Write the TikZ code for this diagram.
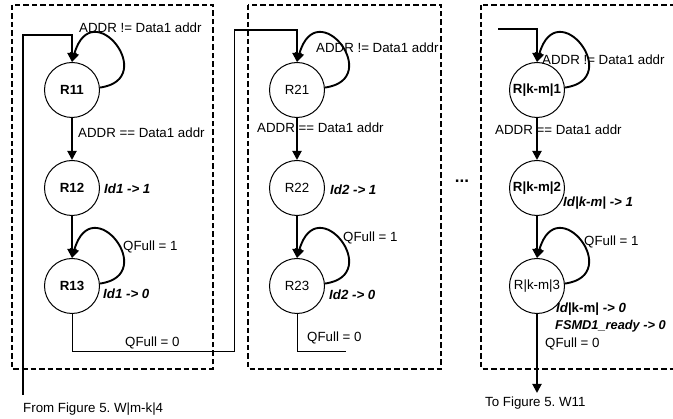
\documentclass[tikz,border=0pt]{standalone}
\usepackage{fontspec}
\setmainfont{Liberation Sans}
\usetikzlibrary{arrows.meta}
\begin{document}
\frenchspacing
\begin{tikzpicture}[x=1pt,y=1pt,font=\fontsize{13.3}{15}\selectfont]
        \tikzstyle{reg}=[circle, draw, line width=1pt, minimum size=55pt, inner sep=0pt]
        \tikzstyle{flow}=[line width=1.9pt, -{Triangle[length=9pt,width=9pt]}]
        \tikzstyle{wire}=[line width=1pt]
        \tikzstyle{frame}=[line width=1.9pt, dash pattern=on 5.5pt off 3pt]
        \tikzstyle{lbl}=[anchor=west, inner sep=0pt]
        \tikzstyle{act}=[anchor=west, inner sep=0pt, font=\fontsize{13.3}{15}\selectfont\bfseries\itshape]

        \useasboundingbox (0,0) rectangle (673,-419);

        \draw[frame] (12,-5) rectangle (213,-369);
        \draw[frame] (248,-5) rectangle (441,-369);
        \draw[frame] (481,-5) rectangle (690,-369);

        \node[reg] (R11) at (72,-90) {\textbf{R11}};
        \node[reg] (R12) at (72,-188) {\textbf{R12}};
        \node[reg] (R13) at (72,-286) {\textbf{R13}};
        \node[reg] (R21) at (297,-90) {R21};
        \node[reg] (R22) at (297,-188) {R22};
        \node[reg] (R23) at (297,-286) {R23};
        \node[reg] (Rkm1) at (537,-90) {\textbf{R|k-m|1}};
        \node[reg] (Rkm2) at (537,-188) {\textbf{R|k-m|2}};
        \node[reg] (Rkm3) at (537,-286) {R|k-m|3};

        \coordinate (in1) at (23,-395);
        \coordinate (top1) at (23,-35);
        \coordinate (ret1) at (234,-352);
        \coordinate (top2) at (234,-30);
        \coordinate (end2) at (346,-352);
        \coordinate (in3) at (498,-29);
        \coordinate (out3) at (537,-393);

        \draw[flow] (in1) -- (top1) -| (R11.north);
        \draw[wire] (R13.south) |- (ret1) -- (top2);
        \draw[flow] (top2) -| (R21.north);
        \draw[wire] (R23.south) |- (end2);
        \draw[flow] (in3) -| (Rkm1.north);
        \draw[flow] (Rkm3.south) -- (out3);

        \foreach \a/\b in {R11/R12, R12/R13, R21/R22, R22/R23, Rkm1/Rkm2, Rkm2/Rkm3}
            \draw[flow] (\a) -- (\b);
        \foreach \s in {R11, R13, R21, R23, Rkm1, Rkm3}
            \draw[flow] (\s.5) .. controls +(60,8) and +(20,70) .. (\s.north);

        \node[lbl] (ne1) at (79,-28) {ADDR != Data1 addr};
        \node[lbl] (eq1) at (78,-133) {ADDR == Data1 addr};
        \node[act] (act12) at (104,-189) {Id1 -> 1};
        \node[lbl] (qf11) at (123,-247) {QFull = 1};
        \node[act] (act13) at (103,-294) {Id1 -> 0};
        \node[lbl] (qf10) at (125,-343) {QFull = 0};
        \node[lbl] (from) at (23,-409) {From Figure 5. W|m-k|4};

        \node[lbl] (ne2) at (316,-48) {ADDR != Data1 addr};
        \node[lbl] (eq2) at (257,-128) {ADDR == Data1 addr};
        \node[act] (act22) at (330,-190) {Id2 -> 1};
        \node[lbl] (qf21) at (343,-238) {QFull = 1};
        \node[act] (act23) at (329,-295) {Id2 -> 0};
        \node[lbl] (qf20) at (307,-338) {QFull = 0};

        \node[font=\fontsize{17}{19}\selectfont\bfseries] (dots) at (462,-181) {...};

        \node[lbl] (ne3) at (542,-60) {ADDR != Data1 addr};
        \node[lbl] (eq3) at (495,-130) {ADDR == Data1 addr};
        \node[act] (act32) at (563,-203) {Id|k-m| -> 1};
        \node[lbl] (qf31) at (584,-242) {QFull = 1};
        \node[act] (act33) at (556,-309) {Id\upshape|k-m|\itshape\ -> 0};
        \node[act, font=\fontsize{12.8}{15}\selectfont\bfseries\itshape] (rdy) at (555,-326) {FSMD1\_ready -> 0};
        \node[lbl] (qf30) at (545,-344) {QFull = 0};
        \node[lbl] (to) at (485,-403) {To Figure 5. W11};
    \end{tikzpicture}
\end{document}
